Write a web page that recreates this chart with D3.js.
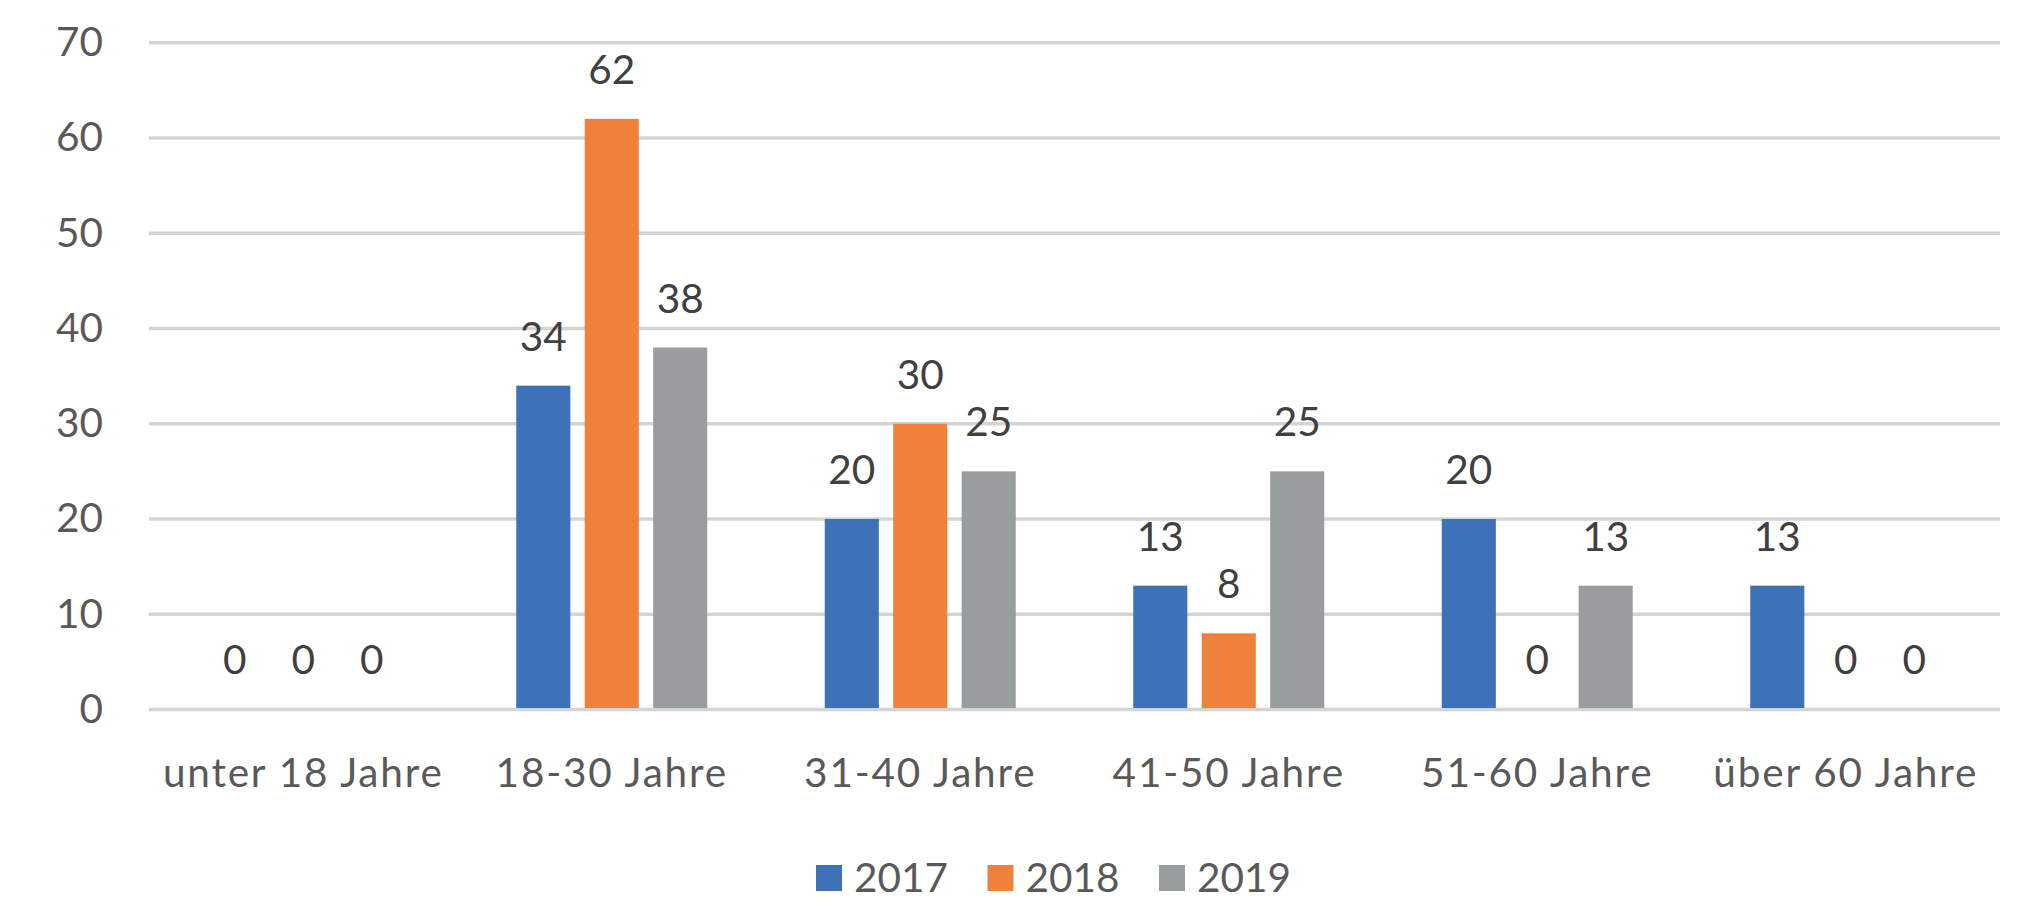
<!DOCTYPE html>
<meta charset="utf-8">
<style>
  body { margin: 0; background: #fff; }
  text { font-family: Lato, "Open Sans", sans-serif; }
</style>
<script src="https://d3js.org/d3.v7.min.js"></script>
<div id="chart"></div>
<script>
// data
const categories = ["unter 18 Jahre", "18-30 Jahre", "31-40 Jahre", "41-50 Jahre", "51-60 Jahre", "über 60 Jahre"];
const years = ["2017", "2018", "2019"];
const values2017 = [0, 34, 20, 13, 20, 13];
const values2018 = [0, 62, 30, 8, 0, 0];
const values2019 = [0, 38, 25, 25, 13, 0];
const yTicks = [0, 10, 20, 30, 40, 50, 60, 70];

const colours = ["#3d72b9", "#f0813b", "#9a9d9e"];
const series = [values2017, values2018, values2019];

var W = 2030, H = 906;
var margin = {top: 42.7, right: 30, bottom: 196.5, left: 149};
var width = W - margin.left - margin.right,
    height = H - margin.top - margin.bottom;

var svg = d3.select("#chart").append("svg")
    .attr("width", W).attr("height", H);
var g = svg.append("g")
    .attr("transform", "translate(" + margin.left + "," + margin.top + ")");

var x0 = d3.scaleBand().domain(categories).range([0, width]);
var gw = x0.bandwidth();
var inner = 191;
var x1 = d3.scaleBand().domain(years)
    .range([(gw - inner) / 2, (gw + inner) / 2])
    .paddingInner(0.21);

var y = d3.scaleLinear().domain([0, 70]).range([height, 0]);

// gridlines
g.selectAll(".grid").data(yTicks).enter().append("line")
    .attr("x1", 0).attr("x2", width)
    .attr("y1", d => y(d)).attr("y2", d => y(d))
    .attr("stroke", "#d4d4d4").attr("stroke-width", 3.5);

// y axis labels
var yAxis = g.append("g")
    .attr("transform", "translate(-46,0)")
    .call(d3.axisLeft(y).tickValues(yTicks).tickSize(0).tickPadding(0));
yAxis.select(".domain").remove();
yAxis.selectAll("text")
    .attr("font-size", 40.5).attr("fill", "#595959")
    .style("font-family", "Lato, sans-serif");

// bars
var rows = [];
categories.forEach(function(c, i) {
  years.forEach(function(yr, j) {
    rows.push({cat: c, year: yr, value: series[j][i], idx: j});
  });
});

g.selectAll(".bar").data(rows).enter().append("rect")
    .attr("x", d => x0(d.cat) + x1(d.year))
    .attr("y", d => y(d.value))
    .attr("width", x1.bandwidth())
    .attr("height", d => height - y(d.value) - 1.5)
    .attr("fill", d => colours[d.idx]);

// value labels
g.selectAll(".lbl").data(rows).enter().append("text")
    .attr("x", d => x0(d.cat) + x1(d.year) + x1.bandwidth() / 2)
    .attr("y", d => y(d.value) - 35)
    .attr("text-anchor", "middle")
    .attr("font-size", 40.5)
    .attr("fill", "#404040")
    .text(d => d.value);

// x axis labels
var xAxis = g.append("g")
    .attr("transform", "translate(0," + height + ")")
    .call(d3.axisBottom(x0).tickSize(0).tickPadding(0));
xAxis.select(".domain").remove();
xAxis.selectAll("text")
    .attr("dy", null)
    .attr("y", 77.5)
    .attr("font-size", 40.5).attr("fill", "#595959")
    .style("letter-spacing", "1.8px")
    .style("font-family", "Lato, sans-serif");

// legend
var legend = svg.append("g").attr("transform", "translate(816,865)");
var item = legend.selectAll(".leg").data(years).enter().append("g")
    .attr("transform", (d, i) => "translate(" + (i * 171.5) + ",0)");
item.append("rect").attr("width", 26).attr("height", 26)
    .attr("fill", (d, i) => colours[i]);
item.append("text").attr("x", 38).attr("y", 27)
    .attr("font-size", 40.5).attr("fill", "#595959")
    .text(d => d);
</script>
